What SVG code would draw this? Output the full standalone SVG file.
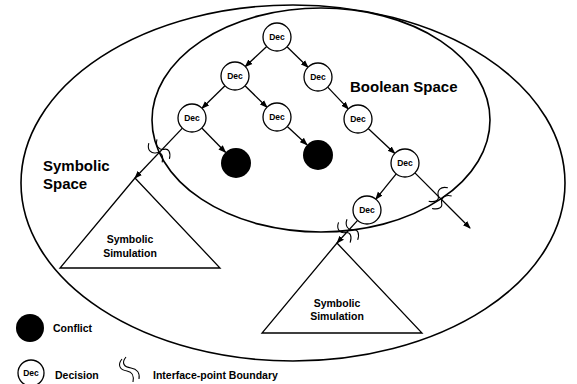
<svg xmlns="http://www.w3.org/2000/svg" width="577" height="384" viewBox="0 0 577 384">
<style>
.ln{stroke:#000;stroke-width:1.3;fill:none}
.sp{stroke:#000;stroke-width:1.6;fill:none}
.dec{stroke:#000;stroke-width:1.3;fill:#fff}
.dt{font-family:"Liberation Sans",Arial,sans-serif;font-weight:bold;font-size:8.5px;text-anchor:middle;fill:#000}
.big{font-family:"Liberation Sans",Arial,sans-serif;font-weight:bold;font-size:15px;fill:#000}
.sm{font-family:"Liberation Sans",Arial,sans-serif;font-weight:bold;font-size:10.5px;fill:#000}
.mid{text-anchor:middle}
.ifp{stroke:#000;stroke-width:1.1;fill:none}
</style>
<defs>
<marker id="ah" markerUnits="userSpaceOnUse" markerWidth="8" markerHeight="8" viewBox="0 0 8 8" refX="7" refY="4" orient="auto">
<path d="M0,1 L8,4 L0,7 Z" fill="#000"/>
</marker>
<g id="ifm">
<path class="ifp" d="M-5,-11 C-10,-5 -7,0 -2,1 C3,2 3,7 -1,12"/>
<path class="ifp" d="M4,-11 C-1,-5 2,0 6,1 C11,2 11,7 7,12"/>
</g>
</defs>

<g id="symbolic-space">
<ellipse class="sp" cx="293" cy="183" rx="272" ry="178"/>
<text class="big" x="43" y="171" font-size="16">Symbolic</text>
<text class="big" x="43" y="189" font-size="16">Space</text>
</g>
<g id="boolean-space">
<ellipse class="sp" cx="321" cy="120" rx="169" ry="112"/>
<text class="big" x="350" y="92">Boolean Space</text>
</g>

<g id="connectors">
<line class="ln" x1="266.7" y1="46.5" x2="245.3" y2="66.5" marker-end="url(#ah)"/>
<line class="ln" x1="287" y1="46.8" x2="308" y2="67.2" marker-end="url(#ah)"/>
<line class="ln" x1="225" y1="85.8" x2="202" y2="108.2" marker-end="url(#ah)"/>
<line class="ln" x1="245" y1="85.8" x2="267" y2="107.2" marker-end="url(#ah)"/>
<line class="ln" x1="201.8" y1="128" x2="225.5" y2="152.3" marker-end="url(#ah)"/>
<line class="ln" x1="287.3" y1="126.5" x2="307" y2="144.8" marker-end="url(#ah)"/>
<line class="ln" x1="327.7" y1="87.1" x2="348.3" y2="108.9" marker-end="url(#ah)"/>
<line class="ln" x1="368.2" y1="128.6" x2="394.8" y2="153.4" marker-end="url(#ah)"/>
<line class="ln" x1="396.2" y1="173.9" x2="375.8" y2="199.1" marker-end="url(#ah)"/>
<line class="ln" x1="414.9" y1="172.9" x2="470" y2="228" marker-end="url(#ah)"/>
<line class="ln" x1="182.4" y1="128.1" x2="135" y2="178" marker-end="url(#ah)"/>
<line class="ln" x1="357.6" y1="220.4" x2="337" y2="243" marker-end="url(#ah)"/>
<use href="#ifm" transform="translate(158,151) rotate(-25)"/>
<use href="#ifm" transform="translate(347,231) rotate(-20)"/>
<use href="#ifm" transform="translate(440,197) rotate(65)"/>
</g>

<g id="n1"><circle class="dec" cx="277" cy="37" r="14"/><text class="dt" x="277" y="40">Dec</text></g>
<g id="n2"><circle class="dec" cx="235" cy="76" r="14"/><text class="dt" x="235" y="79">Dec</text></g>
<g id="n3"><circle class="dec" cx="318" cy="77" r="14"/><text class="dt" x="318" y="80">Dec</text></g>
<g id="n4"><circle class="dec" cx="192" cy="118" r="14"/><text class="dt" x="192" y="121">Dec</text></g>
<g id="n5"><circle class="dec" cx="277" cy="117" r="14"/><text class="dt" x="277" y="120">Dec</text></g>
<g id="n6"><circle class="dec" cx="358" cy="119" r="14"/><text class="dt" x="358" y="122">Dec</text></g>
<g id="n7"><circle class="dec" cx="405" cy="163" r="14"/><text class="dt" x="405" y="166">Dec</text></g>
<g id="n8"><circle class="dec" cx="367" cy="210" r="14"/><text class="dt" x="367" y="213">Dec</text></g>
<g id="c1"><circle cx="236" cy="163" r="15" fill="#000"/></g>
<g id="c2"><circle cx="318" cy="155" r="15" fill="#000"/></g>

<g id="sim-left">
<path class="ln" d="M135,178 L60,268 L220,268 Z"/>
<text class="sm mid" x="130" y="243">Symbolic</text>
<text class="sm mid" x="130" y="257">Simulation</text>
</g>
<g id="sim-right">
<path class="ln" d="M337,243 L262,333 L422,333 Z"/>
<text class="sm mid" x="337" y="307">Symbolic</text>
<text class="sm mid" x="337" y="320">Simulation</text>
</g>

<g id="legend">
<circle cx="30" cy="328" r="14" fill="#000"/>
<text class="sm" x="53" y="332">Conflict</text>
<circle class="dec" cx="31" cy="373" r="13"/>
<text class="dt" x="31" y="376">Dec</text>
<text class="sm" x="55" y="379">Decision</text>
<path class="ifp" d="M122,359 C117,365 120,370 127,371 C133,372 134,376 133,382"/>
<path class="ifp" d="M126,357 C121,363 124,367 131,368 C137,369 140,373 139,379"/>
<text class="sm" x="153" y="379">Interface-point Boundary</text>
</g>
</svg>
